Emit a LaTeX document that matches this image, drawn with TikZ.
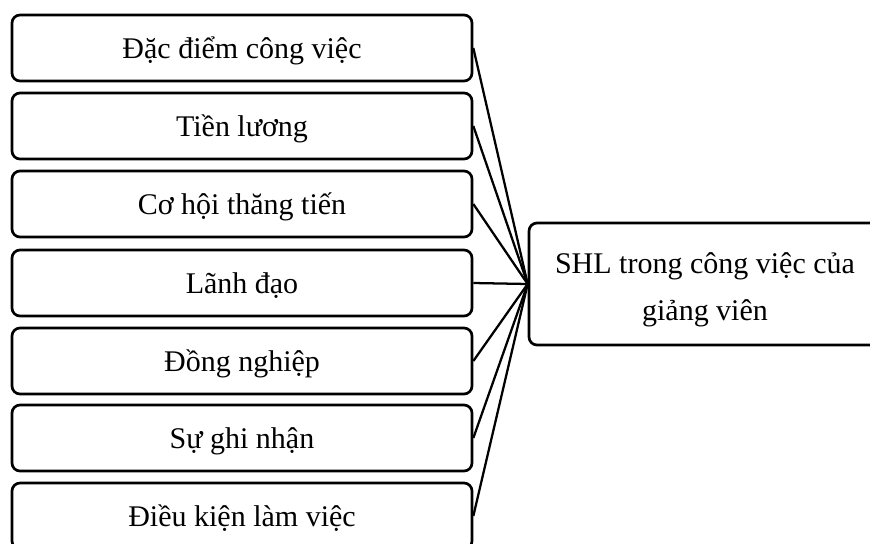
\documentclass[tikz,border=0pt]{standalone}
\usepackage{fontspec}
\setmainfont{Liberation Serif}
\tikzset{
  factor/.style={draw, line width=2pt, rounded corners=6pt,
    minimum width=345pt, minimum height=49.5pt,
    text height=15pt, text depth=0pt,
    font=\fontsize{22.5}{27}\selectfont},
  outcome/.style={draw, line width=2pt, rounded corners=6pt,
    minimum width=264pt, minimum height=91.5pt},
  outcometext/.style={align=center,
    font=\fontsize{22.5}{35.25}\selectfont},
  link/.style={line width=1.7pt}
}
\begin{document}
\begin{tikzpicture}[x=0.75pt, y=-0.75pt]
  \clip (0,0) rectangle (870,543);
  \fill[white] (0,0) rectangle (870,543);
  % influencing factors
  \node[factor] (f1) at (242,48)  {Đặc điểm công việc};
  \node[factor] (f2) at (242,126) {Tiền lương};
  \node[factor] (f3) at (242,204) {Cơ hội thăng tiến};
  \node[factor] (f4) at (242,283) {Lãnh đạo};
  \node[factor] (f5) at (242,361) {Đồng nghiệp};
  \node[factor] (f6) at (242,438) {Sự ghi nhận};
  \node[factor] (f7) at (242,516) {Điều kiện làm việc};
  % outcome
  \node[outcome] (shl) at (705,284) {};
  \node[outcometext] (shltxt) at ([yshift=-4.5pt]shl.center)
    {SHL trong công việc của\\giảng viên};
  % connectors
  \foreach \i in {1,...,7}
    \draw[link] (f\i.east) -- (shl.west);
\end{tikzpicture}
\end{document}
